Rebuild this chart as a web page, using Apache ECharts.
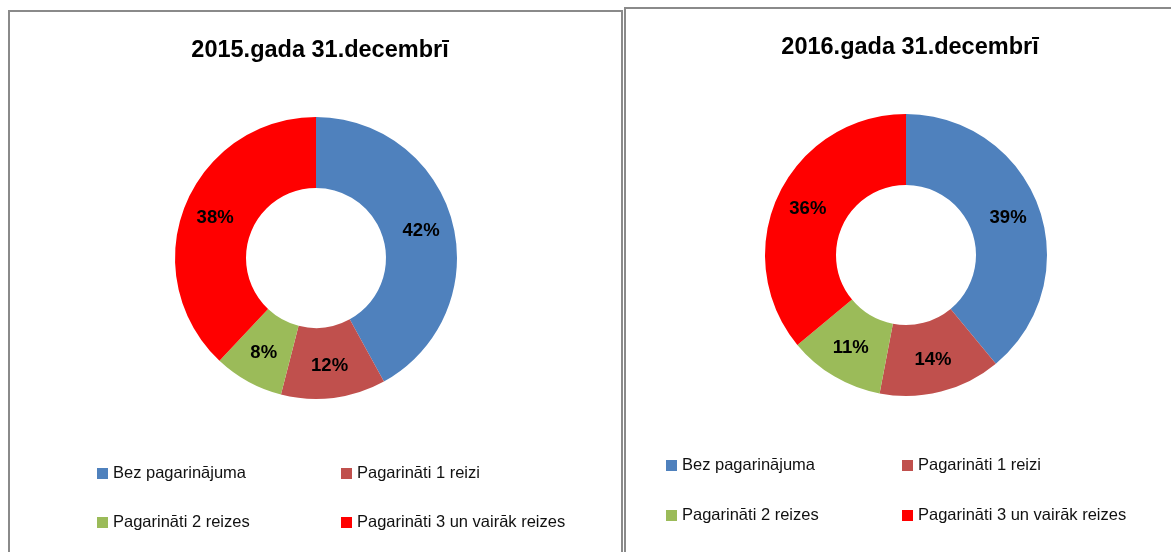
<!DOCTYPE html>
<html>
<head>
<meta charset="utf-8">
<script src="https://cdn.jsdelivr.net/npm/echarts@6/dist/echarts.min.js"></script>
<style>
  html, body { margin: 0; padding: 0; background: #fff; }
  #chart { width: 1171px; height: 552px; }
</style>
</head>
<body>
<div id="chart"></div>
<script>
// dati
var categories = ['Bez pagarinājuma', 'Pagarināti 1 reizi', 'Pagarināti 2 reizes', 'Pagarināti 3 un vairāk reizes'];
var values2015 = [42, 12, 8, 38];
var values2016 = [39, 14, 11, 36];
var titles = ['2015.gada 31.decembrī', '2016.gada 31.decembrī'];
var colors = ['#4F81BD', '#C0504D', '#9BBB59', '#FF0000'];

var chart = echarts.init(document.getElementById('chart'));

function toData(vals) {
  return vals.map(function (v, i) { return { name: categories[i], value: v }; });
}

// legendas pozīcijas katram panelim (kvadrāta kreisā mala, rindas augša)
var legendPos = [
  { cols: [97, 341], rows: [465, 514] },
  { cols: [666, 902], rows: [457, 507] }
];
var legends = [];
legendPos.forEach(function (p) {
  categories.forEach(function (name, i) {
    legends.push({
      data: [name],
      left: p.cols[i % 2],
      top: p.rows[Math.floor(i / 2)],
      padding: 0,
      icon: 'rect',
      itemWidth: 11,
      itemHeight: 11,
      itemGap: 4,
      selectedMode: false,
      textStyle: { fontFamily: 'Liberation Sans', fontSize: 16.5, color: '#111' }
    });
  });
});

function pieSeries(vals, center) {
  return {
    type: 'pie',
    center: center,
    radius: [70, 141],
    startAngle: 90,
    clockwise: true,
    silent: true,
    data: toData(vals),
    itemStyle: { borderWidth: 0 },
    label: {
      show: true,
      position: 'inside',
      formatter: '{c}%',
      fontFamily: 'Liberation Sans',
      fontWeight: 'bold',
      fontSize: 18.5,
      color: '#000'
    },
    labelLine: { show: false },
    animation: false
  };
}

var option = {
  color: colors,
  animation: false,
  title: [
    {
      text: titles[0], left: 315, top: 34, textAlign: 'center',
      textStyle: { fontFamily: 'Liberation Sans', fontWeight: 'bold', fontSize: 23.5, color: '#000' }
    },
    {
      text: titles[1], left: 905, top: 31, textAlign: 'center',
      textStyle: { fontFamily: 'Liberation Sans', fontWeight: 'bold', fontSize: 23.5, color: '#000' }
    }
  ],
  legend: legends,
  graphic: [
    { type: 'rect', shape: { x: 9, y: 11, width: 613, height: 560 }, style: { fill: 'none', stroke: '#8a8a8a', lineWidth: 2 } },
    { type: 'rect', shape: { x: 625, y: 8, width: 600, height: 560 }, style: { fill: 'none', stroke: '#8a8a8a', lineWidth: 2 } }
  ],
  series: [
    pieSeries(values2015, [316, 258]),
    pieSeries(values2016, [906, 255])
  ]
};

chart.setOption(option);
</script>
</body>
</html>
